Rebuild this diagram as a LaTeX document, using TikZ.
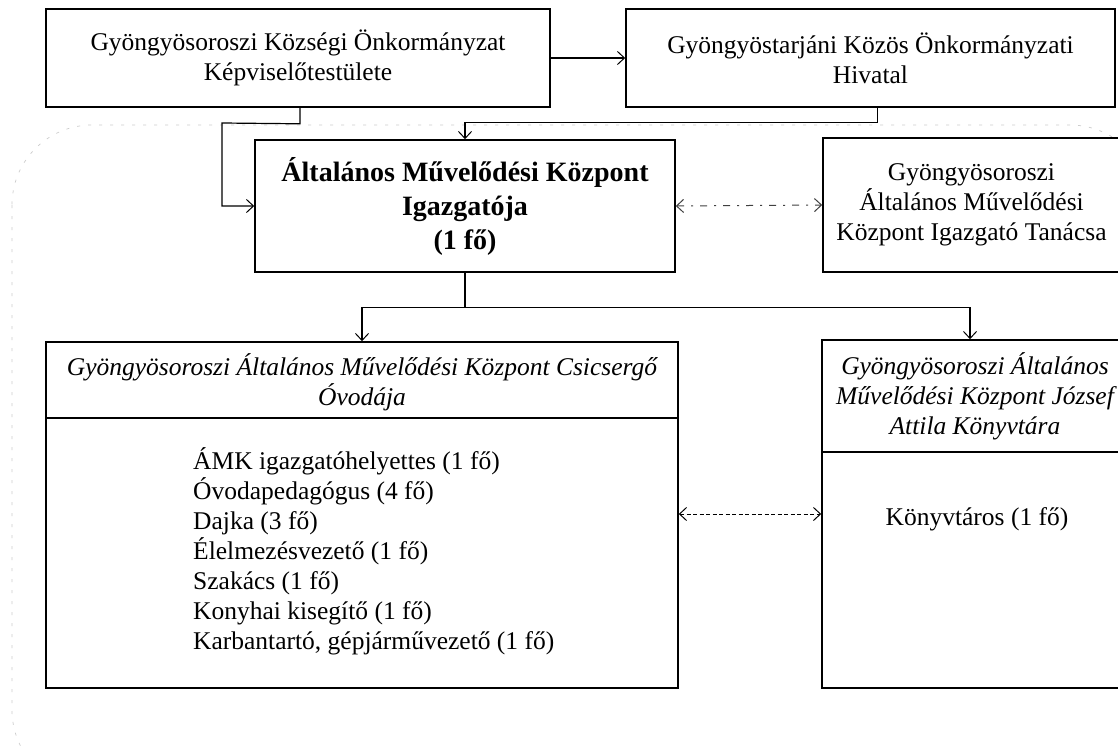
\documentclass[tikz,border=0pt]{standalone}
\usepackage{fontspec}
\setmainfont{Liberation Serif}
\usetikzlibrary{arrows.meta,calc}
\begin{document}
\begin{tikzpicture}[x=1pt,y=-1pt,
  box/.style={draw, line width=1.6pt, inner sep=0pt, align=center, font=\fontsize{25.5}{30}\selectfont},
  txt/.style={inner sep=0pt, align=center, font=\fontsize{25.5}{30}\selectfont},
  barb/.tip={Straight Barb[length=7pt,width=13pt,line width=1pt]},
  arr/.style={line width=1.2pt, -barb},
  dasharr/.style={line width=1pt, barb-barb, dash pattern=on 4pt off 2.5pt},
  dotarr/.style={line width=1pt, black!75, barb-barb, dash pattern=on 7pt off 7pt on 2pt off 7pt},
  faint/.style={gray!40, line width=0.7pt, dash pattern=on 3pt off 8pt}]
\useasboundingbox (0,0) rectangle (1118,749);
\fill[white] (0,0) rectangle (1118,749);
% faint scanned outline in the background
\draw[faint, rounded corners=80pt] (12,125) rectangle (1150,790);
% boxes
\node[box, minimum width=504pt, minimum height=98pt] (b1) at (298,58)
  {Gyöngyösoroszi Községi Önkormányzat\\Képviselőtestülete};
\node[box, minimum width=489pt, minimum height=98pt] (b2) at (870.5,58)
  {Gyöngyöstarjáni Közös Önkormányzati\\Hivatal};
\node[box, minimum width=420pt, minimum height=132pt, font=\fontsize{28}{34}\selectfont\bfseries] (b3) at (465,206)
  {Általános Művelődési Központ\\Igazgatója\\(1 fő)};
\node[box, minimum width=297pt, minimum height=134pt] (b4) at (971.5,205)
  {Gyöngyösoroszi\\Általános Művelődési\\Központ Igazgató Tanácsa};
\node[box, minimum width=632pt, minimum height=346pt] (b5) at (362,515) {};
\node[box, minimum width=308pt, minimum height=348pt] (b6) at (976,514) {};
% dividers
\draw[line width=1.4pt] (b5.west |- 0,418) -- (b5.east |- 0,418);
\draw[line width=1.4pt] (b6.west |- 0,452) -- (b6.east |- 0,452);
% texts of the lower boxes
\node[txt, font=\fontsize{25.5}{30}\selectfont\itshape] (h5) at (362,382)
  {Gyöngyösoroszi Általános Művelődési Központ Csicsergő\\Óvodája};
\node[txt, font=\fontsize{25.5}{30}\selectfont\itshape] (h6) at (975,396)
  {Gyöngyösoroszi Általános\\Művelődési Központ József\\Attila Könyvtára};
\node[txt, align=left, anchor=west] (t5) at (193,551)
  {ÁMK igazgatóhelyettes (1 fő)\\Óvodapedagógus (4 fő)\\Dajka (3 fő)\\Élelmezésvezető (1 fő)\\Szakács (1 fő)\\Konyhai kisegítő (1 fő)\\Karbantartó, gépjárművezető (1 fő)};
\node[txt] (t6) at (977,519) {Könyvtáros (1 fő)};
% connectors
\draw[arr] (b1.east) -- (b2.west);
\draw[arr] ([xshift=2pt]b1.south) -- ++(0,16) coordinate (j1) -- (222,123) |- (b3.west);
\draw[arr] ([xshift=7pt]b2.south) -- ++(0,15) -| (b3.north);
\draw[line width=1.2pt] (b3.south) -- ++(0,35) coordinate (sp);
\draw[arr] (sp) -| (b5.north);
\draw[arr] (sp) -| ([xshift=-6pt]b6.north);
\draw[dotarr] (b3.east) -- (b4.west);
\draw[dasharr] (b5.east |- 0,514) -- (b6.west |- 0,514);
\end{tikzpicture}
\end{document}
